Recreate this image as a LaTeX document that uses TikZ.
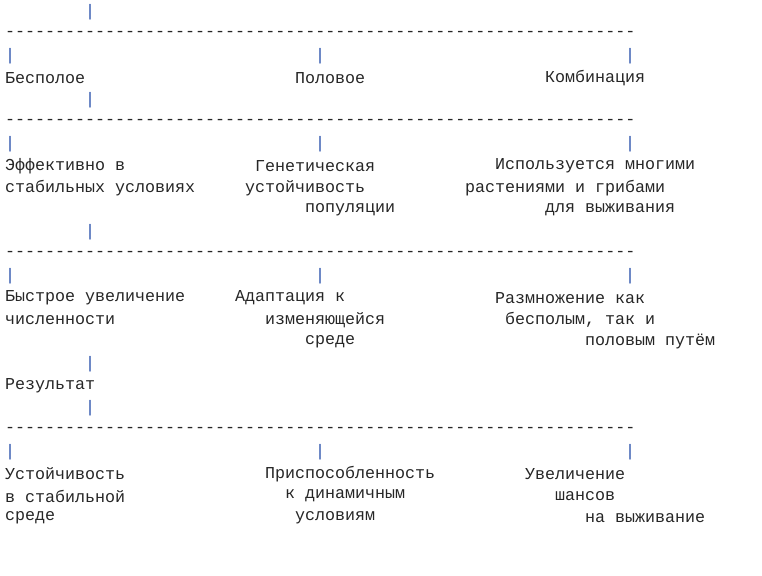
\documentclass[tikz,border=0pt]{standalone}
\usepackage{fontspec}
\setmonofont{Liberation Mono}
\usetikzlibrary{positioning}
\definecolor{barblue}{RGB}{40,80,170}
\tikzset{
  txt/.style={anchor=west, inner sep=0pt, font=\ttfamily\fontsize{16.67}{20}\selectfont, text=black!85},
  bar/.style={txt, text=barblue},
}
\begin{document}
\begin{tikzpicture}[x=1pt, y=-1pt]
    \useasboundingbox (0,0) rectangle (762,575);
    % single bars
    \foreach \r [count=\k] in {12,100,232,364,408}
        \node [bar] (b\k) at (85,\r) {|};
    % triple bars and dashed rules
    \foreach \r [count=\k] in {56,144,276,452} {
        \node [bar] (l\k) at (5,\r) {|};
        \node [bar] (m\k) at (315,\r) {|};
        \node [bar] (r\k) at (625,\r) {|};
        \node [txt] (d\k) at (5,\r-22) {---------------------------------------------------------------};
    }
    % Row 1
    \node [txt] (A1) at (5,78) {Бесполое};
    \node [txt] (B1) at (295,78) {Половое};
    \node [txt] (C1) at (545,78) {Комбинация};
    % Row 2
    \node [txt] (A2) at (5,166) {Эффективно в};
    \node [txt] (A3) at (5,188) {стабильных условиях};
    \node [txt] (B2) at (255,166) {Генетическая};
    \node [txt] (B3) at (245,188) {устойчивость};
    \node [txt] (B4) at (305,210) {популяции};
    \node [txt] (C2) at (495,166) {Используется многими};
    \node [txt] (C3) at (465,188) {растениями и грибами};
    \node [txt] (C4) at (545,210) {для выживания};
    % Row 3
    \node [txt] (A5) at (5,298) {Быстрое увеличение};
    \node [txt] (A6) at (5,320) {численности};
    \node [txt] (B5) at (235,298) {Адаптация к};
    \node [txt] (B6) at (265,320) {изменяющейся};
    \node [txt] (B7) at (305,342) {среде};
    \node [txt] (C5) at (495,298) {Размножение как};
    \node [txt] (C6) at (505,320) {бесполым, так и};
    \node [txt] (C7) at (585,342) {половым путём};
    % Result
    \node [txt] (R) at (5,386) {Результат};
    \node [txt] (A8) at (5,474) {Устойчивость};
    \node [txt] (A9) at (5,496) {в стабильной};
    \node [txt] (A10) at (5,518) {среде};
    \node [txt] (B8) at (265,474) {Приспособленность};
    \node [txt] (B9) at (285,496) {к динамичным};
    \node [txt] (B10) at (295,518) {условиям};
    \node [txt] (C8) at (525,474) {Увеличение};
    \node [txt] (C9) at (555,496) {шансов};
    \node [txt] (C10) at (585,518) {на выживание};
\end{tikzpicture}
\end{document}
